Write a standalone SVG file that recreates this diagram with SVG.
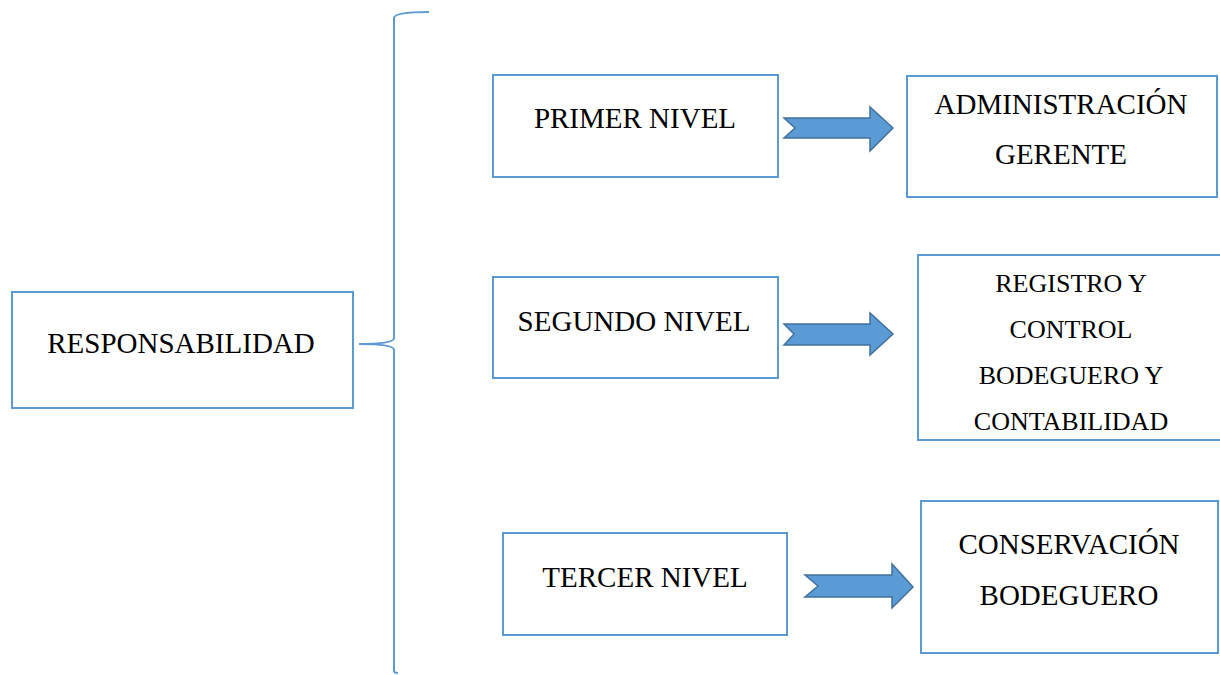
<svg xmlns="http://www.w3.org/2000/svg" width="1220" height="675" viewBox="0 0 1220 675">
  <defs>
    <style>
      .box { fill: #FFFFFF; stroke: #5B9BD5; stroke-width: 2; }
      .lbl { font-family: "Liberation Serif", "Times New Roman", serif; font-size: 29px; fill: #000000; text-anchor: middle; }
      .small { font-size: 26px; }
      .arrow { fill: #5B9BD5; stroke: #41719C; stroke-width: 1.5; stroke-linejoin: miter; }
      .brace { fill: none; stroke: #5B9BD5; stroke-width: 2; }
    </style>
  </defs>
  <rect width="1220" height="675" fill="#FFFFFF"/>

  <g id="connectors">
    <!-- curly brace grouping the three levels -->
    <path class="brace" d="M 429 12 Q 394 12 394 18 L 394 338 Q 394 344 359 344 Q 394 344 394 350 L 394 671 Q 394 673 398 673"/>
    <!-- notched block arrows -->
    <path class="arrow" d="M 784 118 L 870 118 L 870 107 L 893 128 L 870 151 L 870 138 L 784 138 L 795 128 Z"/>
    <path class="arrow" d="M 784 324 L 870 324 L 870 313 L 893 334 L 870 355 L 870 345 L 784 345 L 794 334 Z"/>
    <path class="arrow" d="M 805 575 L 892 575 L 892 564 L 913 587 L 892 608 L 892 597 L 805 597 L 818 586 Z"/>
  </g>

  <g id="responsabilidad">
    <rect class="box" x="12" y="292" width="341" height="116"/>
    <text class="lbl" x="181" y="353">RESPONSABILIDAD</text>
  </g>

  <g id="primer-nivel">
    <rect class="box" x="493" y="75" width="285" height="102"/>
    <text class="lbl" x="635" y="128">PRIMER NIVEL</text>
  </g>

  <g id="segundo-nivel">
    <rect class="box" x="493" y="277" width="285" height="101"/>
    <text class="lbl" x="634" y="331">SEGUNDO NIVEL</text>
  </g>

  <g id="tercer-nivel">
    <rect class="box" x="503" y="533" width="284" height="102"/>
    <text class="lbl" x="645" y="587">TERCER NIVEL</text>
  </g>

  <g id="administracion-gerente">
    <rect class="box" x="907" y="76" width="310" height="121"/>
    <text class="lbl" x="1061" y="114">ADMINISTRACIÓN</text>
    <text class="lbl" x="1061" y="164">GERENTE</text>
  </g>

  <g id="registro-control">
    <rect class="box" x="918" y="255" width="306" height="185"/>
    <text class="lbl small" x="1071" y="292">REGISTRO Y</text>
    <text class="lbl small" x="1071" y="338">CONTROL</text>
    <text class="lbl small" x="1071" y="384">BODEGUERO Y</text>
    <text class="lbl small" x="1071" y="430">CONTABILIDAD</text>
  </g>

  <g id="conservacion-bodeguero">
    <rect class="box" x="921" y="501" width="297" height="152"/>
    <text class="lbl" x="1069" y="554">CONSERVACIÓN</text>
    <text class="lbl" x="1069" y="605">BODEGUERO</text>
  </g>
</svg>
